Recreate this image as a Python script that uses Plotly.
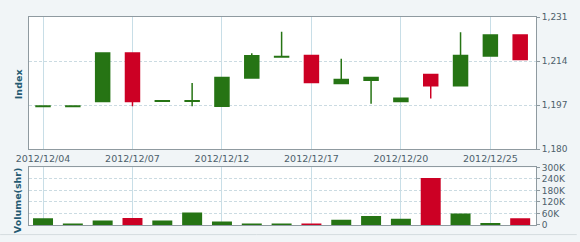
import plotly.graph_objects as go

dates = ["2012/12/04", "2012/12/05", "2012/12/06", "2012/12/07", "2012/12/10",
         "2012/12/11", "2012/12/12", "2012/12/13", "2012/12/14", "2012/12/17",
         "2012/12/18", "2012/12/19", "2012/12/20", "2012/12/21", "2012/12/24",
         "2012/12/25", "2012/12/26"]
open_ = [1196.5, 1196.5, 1198.4, 1217.1, 1198.5, 1198.5, 1196.6, 1207.5, 1215.6,
         1216.2, 1205.4, 1206.6, 1198.4, 1208.8, 1204.5, 1216.0, 1224.1]
close = [1196.7, 1196.7, 1217.1, 1198.4, 1198.7, 1198.7, 1207.7, 1216.1, 1215.8,
         1205.7, 1206.9, 1207.7, 1199.7, 1204.5, 1216.2, 1224.1, 1214.6]
high = [1196.7, 1196.7, 1217.1, 1217.1, 1198.7, 1205.6, 1207.7, 1217.0, 1225.3,
        1216.2, 1214.9, 1207.7, 1199.7, 1208.8, 1225.1, 1224.1, 1224.1]
low = [1196.5, 1196.5, 1198.4, 1196.6, 1198.5, 1196.6, 1196.6, 1207.5, 1215.6,
       1205.7, 1205.4, 1197.6, 1198.4, 1199.6, 1204.5, 1216.0, 1214.6]
volume = [35000, 5000, 23000, 37000, 23000, 65000, 18000, 5000, 4000, 4000,
          27000, 47000, 32000, 245000, 60000, 10000, 35000]

x_tick_labels = ["2012/12/04", "2012/12/07", "2012/12/12", "2012/12/17",
                 "2012/12/20", "2012/12/25"]
price_ticks = [1180, 1197, 1214, 1231]
price_tick_text = ["1,180", "1,197", "1,214", "1,231"]
vol_ticks = [0, 60000, 120000, 180000, 240000, 300000]
vol_tick_text = ["0", "60K", "120K", "180K", "240K", "300K"]

GREEN = "#267414"
RED = "#cc0024"
vol_colors = [GREEN if c >= o else RED for o, c in zip(open_, close)]

fig = go.Figure()
fig.add_trace(go.Candlestick(
    x=dates, open=open_, high=high, low=low, close=close,
    increasing=dict(line=dict(color=GREEN, width=1.5), fillcolor=GREEN),
    decreasing=dict(line=dict(color=RED, width=1.5), fillcolor=RED),
    whiskerwidth=0, xaxis="x", yaxis="y", showlegend=False, hoverinfo="skip"))
fig.add_trace(go.Bar(
    x=dates, y=volume, marker=dict(color=vol_colors, line=dict(width=0)),
    xaxis="x2", yaxis="y2", showlegend=False, hoverinfo="skip"))

H = 217.0
tickfont = dict(family="DejaVu Sans", size=9, color="#4d5f6b")
common_x = dict(type="category", categoryorder="array", categoryarray=dates,
                range=[-0.47, 16.53], showline=True, linecolor="#8f9aa0",
                linewidth=1, mirror=True, showgrid=True, gridcolor="#c8dee7",
                gridwidth=1, tickvals=x_tick_labels, ticks="", zeroline=False)
fig.update_layout(
    width=580, height=242,
    margin=dict(l=29, r=41, t=12, b=13),
    paper_bgcolor="#f1f5f7", plot_bgcolor="#ffffff",
    boxgap=0.33, bargap=0.33,
    xaxis=dict(**common_x, domain=[0, 1], anchor="y", rangeslider=dict(visible=False),
               showticklabels=True, tickfont=dict(family="DejaVu Sans", size=9.5, color="#4d5f6b")),
    xaxis2=dict(**common_x, domain=[0, 1], anchor="y2", matches="x", showticklabels=False),
    yaxis=dict(domain=[(229 - 150) / H, 1.0], side="right", range=[1180, 1231],
               tickvals=price_ticks, ticktext=price_tick_text, tickfont=tickfont,
               showline=True, linecolor="#8f9aa0", mirror=True, showgrid=True,
               gridcolor="#cbdbe2", griddash="3px,2px", zeroline=False,
               ticks="outside", ticklen=3, tickcolor="#8f9aa0"),
    yaxis2=dict(domain=[0, 60 / H], side="right", range=[0, 300000],
                tickvals=vol_ticks, ticktext=vol_tick_text, tickfont=tickfont,
                showline=True, linecolor="#8f9aa0", mirror=True, showgrid=True,
                gridcolor="#cbdbe2", griddash="3px,2px", zeroline=False,
                ticks="outside", ticklen=3, tickcolor="#8f9aa0"),
    annotations=[
        dict(text="<b>Index</b>", xref="paper", yref="paper",
             x=-11 / 510, y=(229 - 82) / H, textangle=-90, showarrow=False,
             font=dict(family="DejaVu Sans", size=9.5, color="#245a72"),
             xanchor="center", yanchor="middle"),
        dict(text="<b>Volume(shr)</b>", xref="paper", yref="paper",
             x=-12 / 510, y=(229 - 203) / H, textangle=-90, showarrow=False,
             font=dict(family="DejaVu Sans", size=9.5, color="#245a72"),
             xanchor="center", yanchor="middle"),
    ],
    shapes=[dict(type="line", xref="paper", yref="paper", x0=-29 / 510, x1=551 / 510,
                 y0=-10 / H, y1=-10 / H, line=dict(color="#d5dcdf", width=1))],
)

fig.write_html("out.html")
